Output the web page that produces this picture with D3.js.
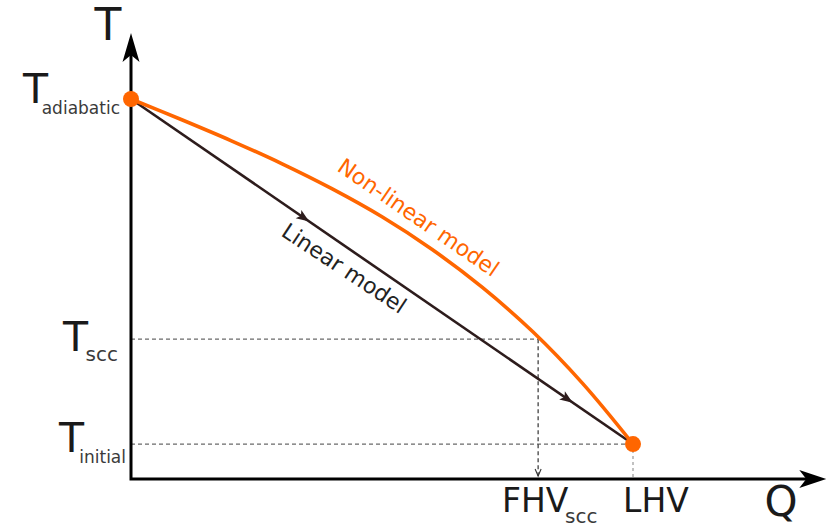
<!DOCTYPE html>
<html>
<head>
<meta charset="utf-8">
<script src="https://cdn.jsdelivr.net/npm/d3@7/dist/d3.min.js"></script>
<style>
  html, body { margin: 0; padding: 0; background: #ffffff; }
  svg { display: block; font-family: "DejaVu Sans", sans-serif; }
</style>
</head>
<body>
<svg id="chart" width="828" height="527"></svg>
<script>
// ---------- data (normalised: Q / LHV, T / T_adiabatic) ----------
const qNonLinear = [0, 0.1, 0.2, 0.3, 0.4, 0.5, 0.6, 0.7, 0.8, 0.9, 1];
const tNonLinear = [1, 0.946, 0.890, 0.830, 0.764, 0.690, 0.604, 0.504, 0.388, 0.251, 0.092];

const qLinear = [0, 1];
const tLinear = [1, 0.092];

const tLevelNames = ["adiabatic", "scc", "initial"];
const tLevelValues = [1, 0.368, 0.092];

const qLevelNames = ["FHV", "LHV"];
const qLevelSubs = ["scc", ""];
const qLevelValues = [0.811, 1];

const axisLabels = ["T", "Q"];
const seriesLabels = ["Non-linear model", "Linear model"];
const linearArrowAt = [0.355, 0.88];
const qAxisMax = 1.385;
const tAxisMax = 1.174;

// ---------- scales ----------
const svg = d3.select("#chart");
const x = d3.scaleLinear().domain([0, 1]).range([131, 633]);
const y = d3.scaleLinear().domain([0, 1]).range([479, 99]);

const ORANGE = "#ff6600";
const DARK = "#2d1c1c";
const INK = "#1a1a1a";

// ---------- dashed guide lines ----------
const g = svg.append("g");
// T_scc horizontal
g.append("line")
  .attr("x1", x(0)).attr("x2", x(qLevelValues[0]))
  .attr("y1", y(tLevelValues[1])).attr("y2", y(tLevelValues[1]))
  .attr("stroke", "#6a6a6a").attr("stroke-width", 1.3).attr("stroke-dasharray", "4,3");
// T_initial horizontal
g.append("line")
  .attr("x1", x(0)).attr("x2", x(qLevelValues[1]))
  .attr("y1", y(tLevelValues[2])).attr("y2", y(tLevelValues[2]))
  .attr("stroke", "#6a6a6a").attr("stroke-width", 1.3).attr("stroke-dasharray", "4,3");
// FHV vertical with small arrow
g.append("line")
  .attr("x1", x(qLevelValues[0])).attr("x2", x(qLevelValues[0]))
  .attr("y1", y(tLevelValues[1])).attr("y2", y(0) - 3)
  .attr("stroke", "#333333").attr("stroke-width", 1.2).attr("stroke-dasharray", "4,3");
g.append("path")
  .attr("d", `M${x(qLevelValues[0]) - 3},${y(0) - 10} L${x(qLevelValues[0])},${y(0) - 3} L${x(qLevelValues[0]) + 3},${y(0) - 10}`)
  .attr("fill", "none").attr("stroke", "#333333").attr("stroke-width", 1.1);
// LHV vertical dotted
g.append("line")
  .attr("x1", x(qLevelValues[1])).attr("x2", x(qLevelValues[1]))
  .attr("y1", y(tLevelValues[2])).attr("y2", y(0))
  .attr("stroke", "#a0a0a0").attr("stroke-width", 1.3).attr("stroke-dasharray", "3,3");

// ---------- axes ----------
const yTip = y(tAxisMax), xTip = x(qAxisMax);
svg.append("path")
  .attr("d", `M${x(0)},${yTip + 20} L${x(0)},${y(0)} L${xTip - 18},${y(0)}`)
  .attr("fill", "none").attr("stroke", "#000").attr("stroke-width", 3)
  .attr("stroke-linejoin", "miter").attr("stroke-linecap", "square");
// y arrow head
svg.append("path")
  .attr("d", `M${x(0)},${yTip} L${x(0) + 8.5},${yTip + 29} L${x(0)},${yTip + 22} L${x(0) - 8.5},${yTip + 29} Z`)
  .attr("fill", "#000");
// x arrow head
svg.append("path")
  .attr("d", `M${xTip},${y(0)} L${xTip - 27},${y(0) + 9} L${xTip - 20},${y(0)} L${xTip - 27},${y(0) - 9} Z`)
  .attr("fill", "#000");

// ---------- linear model ----------
const linePts = qLinear.map((q, i) => [x(q), y(tLinear[i])]);
svg.append("path")
  .attr("d", d3.line()(linePts))
  .attr("fill", "none").attr("stroke", DARK).attr("stroke-width", 2.6);
const ang = Math.atan2(linePts[1][1] - linePts[0][1], linePts[1][0] - linePts[0][0]) * 180 / Math.PI;
linearArrowAt.forEach(t => {
  const px = x(qLinear[0] + t * (qLinear[1] - qLinear[0]));
  const py = y(tLinear[0] + t * (tLinear[1] - tLinear[0]));
  svg.append("path")
    .attr("d", "M0,0 L-13,-5 L-10,0 L-13,5 Z")
    .attr("transform", `translate(${px},${py}) rotate(${ang})`)
    .attr("fill", DARK);
});

// ---------- non-linear model ----------
const curvePts = qNonLinear.map((q, i) => [x(q), y(tNonLinear[i])]);
svg.append("path")
  .attr("d", d3.line().curve(d3.curveCatmullRom)(curvePts))
  .attr("fill", "none").attr("stroke", ORANGE).attr("stroke-width", 3.6);

// end points
[[qNonLinear[0], tNonLinear[0]], [qNonLinear[qNonLinear.length - 1], tNonLinear[tNonLinear.length - 1]]]
  .forEach(p => {
    svg.append("circle").attr("cx", x(p[0])).attr("cy", y(p[1])).attr("r", 8).attr("fill", ORANGE);
  });

// ---------- series labels ----------
svg.append("text")
  .attr("transform", `translate(336,170) rotate(34.5)`)
  .attr("font-size", 22).attr("fill", ORANGE)
  .text(seriesLabels[0]);
svg.append("text")
  .attr("transform", `translate(280,235) rotate(33.5)`)
  .attr("font-size", 22).attr("fill", "#222")
  .text(seriesLabels[1]);

// ---------- axis labels ----------
svg.append("text").attr("x", 108).attr("y", 40).attr("text-anchor", "middle")
  .attr("font-size", 44).attr("fill", INK).text(axisLabels[0]);
svg.append("text").attr("x", 781).attr("y", 516).attr("text-anchor", "middle")
  .attr("font-size", 42).attr("fill", INK).text(axisLabels[1]);

// ---------- T level labels ----------
const tMainX = [23, 63, 59];
const tBaseOff = [4, 12, 8];
const subEnd = [120, 118, 126];
const subOff = [15, 22, 19];
const subSize = [17, 20, 17];
tLevelNames.forEach((name, i) => {
  const yy = y(tLevelValues[i]);
  svg.append("text").attr("x", tMainX[i]).attr("y", yy + tBaseOff[i])
    .attr("font-size", 41).attr("fill", INK).text("T");
  svg.append("text").attr("x", subEnd[i]).attr("y", yy + subOff[i])
    .attr("text-anchor", "end").attr("font-size", subSize[i]).attr("fill", "#3a3a3a")
    .text(name);
});

// ---------- Q level labels ----------
const qMainX = [502, 623];
const qSubX = [565, 0];
qLevelNames.forEach((name, i) => {
  svg.append("text").attr("x", qMainX[i]).attr("y", 512)
    .attr("font-size", 33).attr("fill", INK).text(name);
  if (qLevelSubs[i]) {
    svg.append("text").attr("x", qSubX[i]).attr("y", 523)
      .attr("font-size", 20).attr("fill", "#3a3a3a").text(qLevelSubs[i]);
  }
});
</script>
</body>
</html>
